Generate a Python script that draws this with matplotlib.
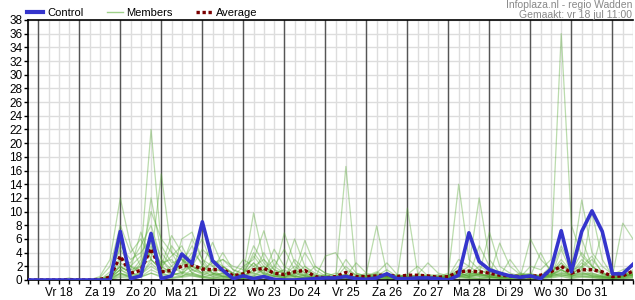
import matplotlib
matplotlib.use("Agg")
import matplotlib.pyplot as plt
import numpy as np
from matplotlib.lines import Line2D

plt.rcParams['font.family'] = ['Liberation Sans', 'DejaVu Sans']

# time axis: hours after vr 18 jul 00:00, 6-hourly steps
hours = np.arange(-6, 349, 6)

day_labels = ['Vr 18', 'Za 19', 'Zo 20', 'Ma 21', 'Di 22', 'Wo 23', 'Do 24',
              'Vr 25', 'Za 26', 'Zo 27', 'Ma 28', 'Di 29', 'Wo 30', 'Do 31']

control = [0, 0, 0, 0, 0, 0, 0, 0, 0, 7.1,
           0.2, 0.6, 6.8, 0.2, 0.6, 3.8, 2.4, 8.5, 2.8, 1.4,
           0.2, 0.6, 0.2, 0.5, 0.1, 0, 0, 0.1, 0.2, 0.3,
           0.3, 0.5, 0.2, 0.1, 0.3, 0.9, 0.2, 0.2, 0.3, 0.3,
           0.2, 0.0, 0.7, 6.9, 2.7, 1.5, 1.0, 0.6, 0.4, 0.6,
           0.2, 1.6, 7.2, 1.2, 7.1, 10.1, 7.1, 0.9, 0.9, 2.3]

average = [0, 0, 0, 0, 0.05, 0, 0, 0.1, 0.4, 3.5,
           1.0, 1.4, 4.6, 1.2, 1.4, 2.0, 2.2, 1.6, 1.5, 1.6,
           0.6, 0.9, 1.5, 1.7, 1.0, 0.8, 1.2, 1.4, 0.5, 0.3,
           0.5, 1.1, 0.5, 0.5, 0.6, 0.8, 0.5, 0.7, 0.7, 0.6,
           0.4, 0.5, 1.2, 1.3, 1.2, 1.0, 0.7, 0.6, 0.5, 0.5,
           0.7, 1.2, 2.0, 1.0, 1.5, 1.5, 1.2, 0.5, 0.6, 1.3]

members = [
    [0, 0, 0, 0, 0, 0, 0, 0, 1.2, 4.5, 2.0, 3.5, 22.0, 5.0, 2.5, 3.0, 1.5, 2.0, 0.8, 1.0,
     0.5, 1.0, 2.5, 1.2, 0.6, 0.3, 1.5, 0.8, 0.2, 0.4, 0.3, 0.8, 0.2, 0.5, 1.0, 0.4, 0.2, 0.6, 0.3, 0.2,
     0.4, 0.3, 1.5, 0.8, 2.0, 1.2, 0.5, 0.8, 0.3, 0.6, 0.4, 0.8, 2.5, 1.0, 1.8, 3.0, 1.2, 0.4, 0.6, 1.0],
    [0, 0, 0, 0, 0, 0, 0, 0, 0.5, 6.0, 1.5, 2.0, 7.0, 3.0, 1.0, 2.0, 4.0, 2.5, 1.0, 0.5,
     0.8, 0.5, 1.2, 2.0, 0.8, 1.5, 0.6, 0.3, 0.5, 0.2, 0.2, 0.5, 0.8, 0.3, 0.2, 0.6, 0.4, 0.3, 0.8, 0.5,
     0.2, 0.6, 2.0, 1.0, 0.8, 0.5, 1.2, 0.6, 0.4, 2.0, 1.5, 3.0, 36.0, 8.0, 3.5, 2.0, 1.0, 0.5, 0.8, 1.2],
    [0, 0, 0, 0, 0, 0, 0, 0.3, 2.0, 8.0, 4.0, 6.0, 3.0, 15.5, 4.0, 1.5, 2.0, 1.0, 3.0, 1.5,
     1.0, 0.4, 0.8, 1.5, 1.0, 0.5, 0.8, 2.0, 0.6, 0.3, 0.5, 0.2, 0.3, 0.8, 0.4, 0.2, 0.5, 0.3, 0.4, 0.6,
     0.3, 0.5, 0.8, 1.5, 0.6, 0.4, 0.3, 0.5, 1.0, 0.8, 0.6, 1.2, 5.0, 2.0, 11.7, 4.0, 2.0, 0.8, 1.5, 2.0],
    [0, 0, 0, 0, 0, 0, 0, 0.5, 3.0, 12.0, 5.0, 2.0, 4.0, 2.0, 3.5, 5.0, 2.0, 1.5, 2.5, 3.0,
     1.5, 1.0, 9.8, 3.0, 1.5, 0.8, 2.0, 1.0, 0.5, 0.8, 0.4, 16.6, 1.0, 0.5, 0.8, 0.3, 0.6, 0.4, 0.3, 0.5,
     0.2, 0.4, 1.0, 0.6, 0.8, 0.5, 0.4, 0.3, 0.6, 0.4, 0.3, 0.8, 1.5, 0.8, 1.0, 0.6, 0.5, 0.3, 0.6, 0.8],
    [0, 0, 0, 0, 0, 0, 0, 0, 0.8, 3.0, 2.5, 5.0, 8.0, 3.0, 1.5, 2.0, 6.0, 3.0, 2.0, 1.0,
     0.5, 2.0, 3.0, 7.2, 2.0, 1.0, 0.5, 1.5, 0.8, 0.4, 0.6, 0.4, 0.5, 1.0, 7.9, 1.0, 0.4, 0.8, 0.5, 0.3,
     0.5, 1.0, 14.0, 3.0, 1.5, 0.8, 0.5, 0.4, 0.6, 1.0, 0.5, 0.6, 2.0, 1.0, 2.5, 1.5, 0.8, 0.4, 1.0, 0.6],
    [0, 0, 0, 0, 0, 0, 0, 0, 0.4, 2.0, 1.0, 3.0, 10.0, 6.0, 4.0, 3.0, 2.0, 4.5, 3.0, 2.0,
     1.0, 0.6, 1.5, 2.0, 1.0, 6.9, 2.5, 1.0, 0.5, 0.6, 0.3, 0.6, 0.4, 0.2, 0.5, 0.8, 0.3, 10.5, 1.0, 0.4,
     0.3, 0.6, 1.0, 2.0, 12.0, 3.0, 1.0, 0.6, 0.4, 0.5, 0.8, 0.6, 1.0, 0.5, 1.5, 10.0, 3.0, 0.6, 0.8, 1.2],
    [0, 0, 0, 0, 0.3, 0, 0, 0, 0.2, 1.5, 0.8, 1.0, 5.0, 2.0, 6.5, 4.0, 1.5, 1.0, 1.5, 0.5,
     0.3, 1.0, 5.0, 2.5, 1.0, 1.5, 6.0, 2.0, 1.0, 0.5, 1.0, 0.5, 0.3, 0.6, 1.2, 0.5, 0.3, 0.6, 0.4, 0.8,
     0.6, 0.4, 0.5, 1.0, 0.8, 7.0, 2.0, 1.0, 0.6, 0.8, 0.5, 1.0, 3.0, 1.2, 4.0, 2.0, 1.0, 0.6, 8.3, 6.0],
    [0, 0, 0, 0, 0, 0, 0, 0, 0.2, 1.0, 0.5, 0.8, 2.0, 1.0, 0.5, 6.0, 7.0, 3.0, 1.0, 0.8,
     0.4, 0.2, 0.6, 1.0, 4.5, 2.0, 1.0, 5.8, 2.0, 1.0, 0.6, 0.8, 0.4, 0.3, 0.6, 1.0, 0.4, 0.3, 0.5, 0.6,
     0.3, 0.6, 1.2, 0.5, 0.8, 0.6, 5.4, 2.0, 0.8, 0.5, 0.4, 0.8, 1.5, 0.6, 1.0, 0.8, 0.5, 0.3, 0.5, 0.8],
    [0, 0, 0, 0, 0, 0, 0, 0, 0.6, 5.0, 3.0, 4.0, 6.0, 1.0, 2.0, 3.5, 1.0, 2.0, 5.5, 2.0,
     1.0, 3.0, 2.0, 1.0, 0.6, 0.4, 1.0, 0.6, 0.3, 3.5, 4.0, 1.5, 0.8, 0.5, 0.4, 0.6, 0.5, 0.3, 0.6, 0.5,
     0.4, 0.3, 0.6, 0.8, 0.5, 0.4, 0.3, 0.5, 0.4, 6.0, 3.0, 1.5, 2.0, 1.5, 2.0, 1.0, 0.6, 0.4, 0.6, 1.0],
    [0, 0, 0, 0, 0, 0, 0, 0, 0.3, 3.5, 2.0, 1.5, 4.5, 2.5, 3.0, 1.0, 3.5, 6.0, 2.0, 3.0,
     2.0, 1.5, 1.0, 4.0, 1.5, 1.0, 0.5, 0.8, 0.4, 0.6, 0.3, 0.5, 2.5, 1.0, 0.6, 0.4, 0.8, 0.5, 0.3, 0.6,
     0.8, 0.5, 3.0, 2.0, 1.0, 0.6, 0.8, 0.6, 0.5, 0.4, 0.6, 0.4, 4.5, 1.0, 3.0, 1.5, 7.0, 1.0, 0.5, 0.8],
    [0, 0, 0, 0, 0, 0, 0, 0, 0, 2.5, 1.5, 7.0, 3.0, 1.5, 1.0, 0.8, 2.5, 1.5, 0.5, 1.0,
     0.6, 1.0, 3.5, 1.5, 0.8, 0.5, 3.0, 1.5, 0.6, 0.3, 0.5, 3.0, 1.0, 0.6, 0.3, 0.5, 0.6, 0.4, 0.8, 2.5,
     1.0, 0.6, 1.5, 0.8, 1.0, 1.5, 0.6, 0.4, 0.8, 0.6, 4.0, 1.0, 0.6, 0.8, 6.0, 2.0, 0.8, 0.5, 1.0, 0.6],
    [0, 0, 0, 0, 0, 0, 0, 0, 0.4, 1.5, 0.6, 1.0, 12.0, 4.0, 2.0, 1.0, 0.6, 0.4, 0.8, 0.5,
     0.3, 0.6, 1.0, 0.5, 2.0, 4.5, 1.5, 0.6, 0.4, 0.3, 0.5, 0.8, 0.3, 0.5, 1.0, 2.5, 0.8, 0.4, 0.3, 0.5,
     0.4, 0.8, 0.6, 0.4, 5.0, 2.0, 0.8, 0.5, 0.4, 0.3, 0.5, 0.8, 1.2, 0.6, 0.8, 1.0, 0.6, 0.3, 0.4, 0.6],
    [0, 0, 0, 0, 0, 0, 0, 0, 0, 1.0, 0.3, 0.5, 1.5, 0.8, 0.4, 0.6, 1.0, 0.5, 0.3, 0.2,
     0.1, 0.3, 0.5, 0.3, 0.1, 0.2, 0.5, 0.3, 0.1, 0.2, 0.1, 0.2, 0.3, 0.1, 0.2, 0.4, 0.2, 0.1, 0.3, 0.2,
     0.1, 0.2, 0.5, 0.3, 0.2, 0.4, 0.3, 0.2, 0.1, 0.2, 0.3, 0.5, 0.8, 0.4, 0.6, 0.4, 0.3, 0.2, 0.3, 0.4],
    [0, 0, 0, 0, 0, 0, 0, 0, 0.5, 2.0, 1.0, 2.0, 3.0, 1.5, 5.0, 3.0, 1.0, 0.6, 1.5, 4.0,
     1.5, 0.8, 4.0, 2.0, 1.0, 0.6, 1.0, 0.5, 0.3, 0.6, 0.4, 0.3, 0.6, 0.4, 0.3, 0.6, 0.4, 0.8, 2.0, 0.6,
     0.4, 0.6, 1.0, 0.5, 0.6, 0.8, 0.4, 0.6, 0.8, 0.5, 0.6, 2.0, 1.5, 0.8, 1.2, 0.6, 0.4, 0.3, 0.6, 1.5],
    [0, 0, 0, 0, 0, 0, 0, 0, 0, 0.6, 0.4, 0.8, 2.5, 1.0, 0.6, 1.2, 0.8, 0.5, 0.4, 0.3,
     0.2, 0.5, 2.0, 3.0, 0.8, 0.4, 0.6, 0.3, 0.2, 0.4, 0.2, 0.4, 0.2, 0.3, 0.4, 0.2, 0.3, 0.2, 0.4, 0.3,
     0.2, 0.4, 0.6, 0.4, 0.3, 0.5, 0.3, 0.2, 0.3, 0.4, 0.3, 0.5, 0.8, 0.5, 0.6, 0.5, 0.4, 0.2, 0.3, 0.5],
    [0, 0, 0, 0, 0, 0, 0, 0, 0.3, 1.0, 0.6, 2.5, 5.5, 2.0, 1.0, 2.5, 5.0, 2.0, 1.0, 0.6,
     0.4, 0.2, 0.6, 1.5, 3.0, 1.0, 0.4, 0.6, 2.0, 1.0, 0.6, 0.3, 0.2, 0.4, 0.6, 1.5, 0.5, 0.3, 0.2, 0.4,
     0.5, 0.3, 0.8, 0.6, 1.5, 0.8, 0.5, 3.0, 1.0, 0.6, 0.4, 0.6, 1.0, 0.8, 2.0, 3.5, 1.0, 0.4, 0.5, 0.8],
    [0, 0, 0, 0, 0, 0, 0, 0, 0.1, 0.8, 0.5, 0.4, 1.0, 0.6, 0.3, 0.5, 0.8, 0.4, 0.2, 0.6,
     0.3, 0.2, 0.4, 0.8, 0.5, 0.3, 0.2, 0.4, 0.2, 0.1, 0.3, 0.5, 0.2, 0.1, 0.3, 0.2, 0.1, 0.3, 0.2, 0.1,
     0.3, 0.2, 0.4, 0.3, 0.2, 0.3, 0.2, 0.1, 0.2, 0.3, 0.2, 0.4, 0.6, 0.3, 0.5, 0.4, 0.2, 0.1, 0.2, 0.3],
    [0, 0, 0, 0, 0, 0, 0, 0.2, 0.6, 2.0, 1.0, 0.6, 3.0, 1.5, 0.8, 1.0, 2.0, 1.0, 0.8, 2.0,
     0.8, 0.5, 1.5, 1.0, 0.6, 0.3, 0.8, 4.0, 1.5, 0.6, 0.3, 0.6, 0.4, 0.2, 0.5, 0.3, 0.6, 0.2, 0.4, 0.3,
     0.2, 0.3, 0.6, 0.4, 0.8, 0.6, 0.3, 0.4, 0.6, 0.4, 0.3, 0.6, 1.5, 0.6, 0.8, 0.6, 0.4, 0.2, 0.4, 0.6],
    [0, 0, 0, 0, 0, 0, 0, 0, 0.3, 1.5, 2.0, 1.0, 6.5, 2.0, 1.0, 0.5, 1.5, 0.8, 0.6, 0.4,
     0.3, 0.8, 2.5, 0.8, 0.5, 0.8, 1.2, 0.6, 0.3, 0.2, 0.3, 2.0, 0.6, 0.3, 0.8, 0.4, 0.2, 0.5, 0.3, 0.4,
     0.6, 0.4, 1.0, 0.6, 1.0, 0.5, 0.4, 0.3, 0.5, 0.8, 0.6, 1.0, 2.5, 1.0, 1.5, 0.8, 0.5, 0.3, 0.4, 0.8],
    [0, 0, 0, 0, 0, 0, 0, 0, 0, 0.4, 0.2, 0.5, 1.0, 0.4, 0.2, 0.4, 0.6, 0.3, 0.2, 0.1,
     0.1, 0.2, 0.3, 0.4, 0.2, 0.1, 0.3, 0.2, 0.1, 0.1, 0.2, 0.3, 0.1, 0.2, 0.1, 0.2, 0.3, 0.1, 0.2, 0.1,
     0.1, 0.2, 0.3, 0.2, 0.1, 0.2, 0.1, 0.2, 0.1, 0.2, 0.2, 0.3, 0.5, 0.2, 0.4, 0.3, 0.2, 0.1, 0.2, 0.3],
]

fig = plt.figure(figsize=(6.35, 3.0), dpi=100)
ax = fig.add_axes([28 / 635, 20 / 300, 605 / 635, 260 / 300])

# light grid: every 6 hours and every 2 units
for h in hours:
    ax.axvline(h, color='#dddddd', lw=1, zorder=0)
for v in range(0, 39, 2):
    ax.axhline(v, color='#dddddd', lw=1, zorder=0)
# day boundaries
for d in range(0, 15):
    ax.axvline(d * 24, color='#555555', lw=1, zorder=1)

for m in members:
    ax.plot(hours, m, color='#55a832', lw=0.9, alpha=0.4, zorder=2)
ax.plot(hours, average, color='#7a0000', lw=2.4, ls=(0, (1, 0.8)), zorder=3)
ax.plot(hours, control, color='#3535cc', lw=2.6, zorder=4)

ax.set_xlim(-6, 348)
ax.set_ylim(0, 38)
ax.set_yticks(range(0, 39, 2))
ax.tick_params(axis='y', labelsize=8.5, length=3, width=1, pad=1)
ax.set_xticks(hours, minor=True)
ax.set_xticks([12 + 24 * k for k in range(len(day_labels))])
ax.set_xticklabels(day_labels)
ax.tick_params(axis='x', which='both', length=3, width=1, labelsize=8.5, pad=2)
for s in ['left', 'bottom', 'top']:
    ax.spines[s].set_color('black')
    ax.spines[s].set_linewidth(1.2)
ax.spines['right'].set_visible(False)

# legend above the plot
handles = [Line2D([], [], color='#3535cc', lw=3),
           Line2D([], [], color='#9fd08a', lw=1),
           Line2D([], [], color='#7a0000', lw=2.4, ls=(0, (1, 0.8)))]
fig.legend(handles, ['Control', 'Members', 'Average'], loc='center left',
           bbox_to_anchor=(27 / 635, 1 - 13 / 300), ncol=3, frameon=False,
           fontsize=8, handlelength=1.45, handletextpad=0.35, columnspacing=2.1,
           borderpad=0, borderaxespad=0)

narrow = ['Liberation Sans Narrow', 'Liberation Sans', 'DejaVu Sans']
fig.text(632 / 635, 1 - 5 / 300, 'Infoplaza.nl - regio Wadden', ha='right', va='center',
         fontsize=7.5, color='#888888', family=narrow)
fig.text(632 / 635, 1 - 14.5 / 300, 'Gemaakt: vr 18 jul 11:00', ha='right', va='center',
         fontsize=7.5, color='#888888', family=narrow)

fig.savefig('out.png', dpi=100)
